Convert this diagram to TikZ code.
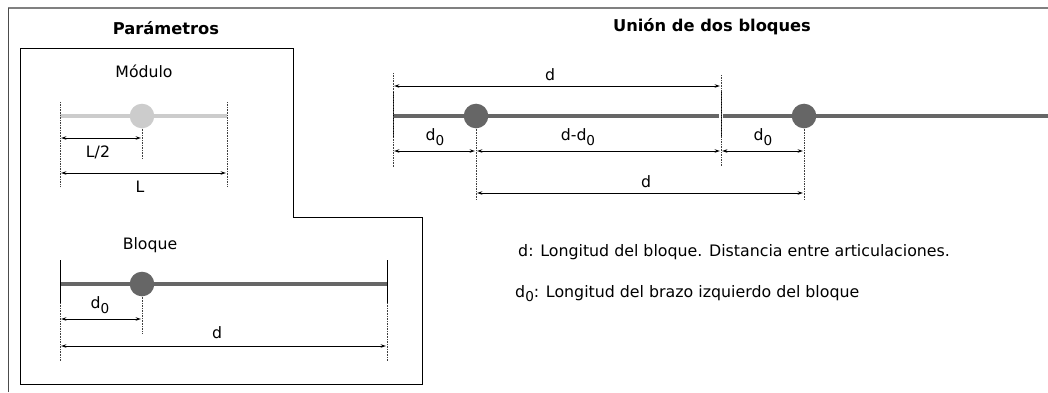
\documentclass[tikz,border=0pt]{standalone}
\usepackage{fontspec}
\setmainfont{DejaVu Sans}
\usetikzlibrary{arrows.meta}
\definecolor{barra}{HTML}{666666}
\definecolor{modulo}{HTML}{CCCCCC}
\definecolor{marco}{HTML}{808080}
\newcommand{\dcero}{d\raisebox{-0.5ex}{\fontsize{11.6}{13}\selectfont 0}}

\begin{document}
\begin{tikzpicture}[x=0.03cm,y=-0.03cm,font=\fontsize{13.4}{15}\selectfont]
		\useasboundingbox (0,0) rectangle (1048,392);

		% marcos
		\draw [marco,line width=1.5pt] (8,8) -- (1048,8);
		\draw [black!70,line width=0.8pt] (8,392) -- (8,8);
		\draw [line width=0.8pt] (20,48) -- (293,48) -- (293,217) -- (422,217)
		      -- (422,384) -- (20,384) -- cycle;

		% puntos de referencia
		\coordinate (m0) at (60,116);   \coordinate (m1) at (227,116);
		\coordinate (m0s) at (60,102);  \coordinate (m0i) at (60,187);
		\coordinate (m1s) at (227,102); \coordinate (m1i) at (227,187);
		\coordinate (amg) at (142,159);
		\coordinate (lm0) at (60,138);  \coordinate (lm1) at (142,138);
		\coordinate (l0) at (60,173);   \coordinate (l1) at (227,173);

		\coordinate (b0) at (60,284);   \coordinate (b1) at (387,284);
		\coordinate (b0s) at (60,260);  \coordinate (b0i) at (60,303);
		\coordinate (b0g) at (60,362);
		\coordinate (b1s) at (387,260); \coordinate (b1i) at (387,303);
		\coordinate (b1g) at (387,362);
		\coordinate (abg) at (142,333);
		\coordinate (db0) at (60,319);  \coordinate (db1) at (142,319);
		\coordinate (d0) at (60,346);   \coordinate (d1) at (387,346);

		\coordinate (u0) at (393,116);  \coordinate (u1) at (719,116);
		\coordinate (u2) at (723,116);  \coordinate (u3) at (1048,116);
		\coordinate (u0s) at (393,92);  \coordinate (u0i) at (393,137);
		\coordinate (uds) at (721,92);  \coordinate (udi) at (721,137);
		\coordinate (u0a) at (393,73);  \coordinate (u0b) at (393,167);
		\coordinate (uda) at (721,75);  \coordinate (udb) at (721,166);
		\coordinate (a1g) at (476,200); \coordinate (a2g) at (804,200);
		\coordinate (ts0) at (393,86);  \coordinate (ts1) at (721,86);
		\coordinate (ma) at (393,151);  \coordinate (mb) at (476,151);
		\coordinate (mc) at (721,151);  \coordinate (md) at (804,151);
		\coordinate (bt0) at (476,193); \coordinate (bt1) at (804,193);

		% barras
		\begin{scope}[every edge/.style={draw=barra,line width=3.4pt}]
		    \path [-] (m0) edge[draw=modulo] (m1);
		    \path [-] (b0) edge (b1);
		    \path [-] (u0) edge (u1);
		    \path [-] (u2) edge (u3);
		\end{scope}

		% articulaciones
		\begin{scope}[every node/.style={circle,fill=barra,minimum size=21pt,inner sep=0pt}]
		    \node [fill=modulo] (am) at (142,116) {};
		    \node (ab) at (142,284) {};
		    \node (a1) at (476,116) {};
		    \node (a2) at (804,116) {};
		\end{scope}

		% extremos y guias
		\begin{scope}[every edge/.style={draw=black,line width=0.8pt}]
		    \path [-] (b0s) edge (b0i);
		    \path [-] (b1s) edge (b1i);
		    \path [-] (u0s) edge (u0i);
		    \path [-] (uds) edge (udi);
		\end{scope}
		\begin{scope}[every edge/.style={draw=black!75,line width=0.6pt,
		              dash pattern=on 0.6pt off 0.8pt}]
		    \path [-] (m0s) edge (m0i);
		    \path [-] (m1s) edge (m1i);
		    \path [-] (am.south) edge (amg);
		    \path [-] (b0i) edge (b0g);
		    \path [-] (b1i) edge (b1g);
		    \path [-] (ab.south) edge (abg);
		    \path [-] (u0a) edge (u0b);
		    \path [-] (uda) edge (udb);
		    \path [-] (a1.south) edge (a1g);
		    \path [-] (a2.south) edge (a2g);
		\end{scope}

		% cotas
		\begin{scope}[>={Stealth[length=4.5pt,width=3pt]},
		              every edge/.style={draw=black,line width=0.8pt,
		              shorten <=1pt,shorten >=1pt}]
		    \path [<->] (lm0) edge (lm1);
		    \path [<->] (l0) edge (l1);
		    \path [<->] (db0) edge (db1);
		    \path [<->] (d0) edge (d1);
		    \path [<->] (ts0) edge (ts1);
		    \path [<->] (ma) edge (mb);
		    \path [<->] (mb) edge (mc);
		    \path [<->] (mc) edge (md);
		    \path [<->] (bt0) edge (bt1);
		\end{scope}

		% textos
		\begin{scope}[every node/.style={font=\fontsize{13.9}{16}\selectfont\bfseries}]
		    \node (tpar) at (166,28) {Parámetros};
		    \node (tunion) at (712,27) {Unión de dos bloques};
		\end{scope}
		\node (tmod) at (144,71) {Módulo};
		\node (tblo) at (150,245) {Bloque};
		\node (cl2) at (98,152) {L/2};
		\node (cl) at (140,187) {L};
		\node (cdb0) at (100,305) {\dcero};
		\node (cdb) at (217,333) {d};
		\node (cts) at (550,75) {d};
		\node (cma) at (435,137) {\dcero};
		\node (cmb) at (578,137) {d-\dcero};
		\node (cmc) at (763,137) {\dcero};
		\node (cbt) at (646,182) {d};
		\begin{scope}[every node/.style={anchor=base west,inner sep=0pt,
		              font=\fontsize{13.5}{15}\selectfont}]
		    \node (ley1) at (518,256) {d: Longitud del bloque. Distancia entre articulaciones.};
		    \node (ley2) at (515,297) {\dcero: Longitud del brazo izquierdo del bloque};
		\end{scope}
\end{tikzpicture}
\end{document}
